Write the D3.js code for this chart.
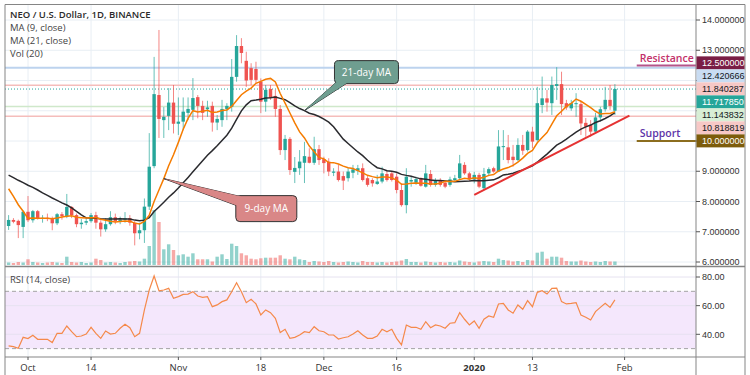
<!DOCTYPE html>
<html>
<head>
<meta charset="utf-8">
<script src="https://cdn.jsdelivr.net/npm/d3@7"></script>
<style>
  body { margin: 0; background: #fff; }
  svg { display: block; font-family: "Open Sans", "DejaVu Sans", sans-serif; }
</style>
</head>
<body>
<svg id="chart" width="750" height="375"></svg>
<script>
// ---- data (daily candles, 27 Sep 2019 .. 30 Jan 2020) ----
const firstDay = [2019, 8, 27];

// closes before the first visible candle, only used for the moving averages
const priorCloses = [9.0, 9.1, 9.3, 9.2, 9.1, 9.3, 9.4, 9.2, 9.1, 9.2, 9.3, 9.28, 9.6, 9.7, 9.6, 9.5, 7.6, 7.45, 7.5, 7.45];

const open = [
  7.19, 7.39, 7.36, 7.16,
  7.66, 7.38, 7.68, 7.44, 7.46, 7.42, 7.28, 7.58, 7.50, 7.82,
  7.55, 7.25, 7.30, 7.35, 7.55, 7.30, 7.08, 7.25, 7.48, 7.35,
  7.40, 7.45, 7.30, 6.95, 7.05, 7.83, 9.17, 11.52, 10.69, 10.83,
  11.27, 10.57, 10.64, 10.93, 11.03, 11.45, 11.16, 11.05, 11.16, 10.61,
  10.69, 11.06, 11.13, 12.12, 13.14, 12.65, 12.41, 12.38, 11.96, 11.30,
  11.72, 11.49, 11.06, 9.70, 10.07, 8.98, 9.10, 9.28, 9.48, 9.28,
  9.73, 9.40, 9.32, 8.95, 8.99, 8.84, 8.77, 8.95, 9.02, 9.10,
  8.77, 8.71, 8.58, 8.66, 8.91, 8.93, 8.82, 8.38, 7.88, 8.66,
  8.62, 8.77, 8.49, 8.91, 8.55, 8.69, 8.62, 8.55, 8.71, 8.77,
  9.21, 8.93, 8.73, 8.88, 8.44, 8.93, 9.10, 8.99, 9.80, 9.79,
  9.48, 9.37, 9.87, 9.70, 10.31, 10.03, 11.19, 11.41, 11.25, 11.82,
  11.88, 11.25, 11.08, 11.22, 11.22, 10.60, 10.53, 10.31, 10.78, 11.05,
  11.36, 11.00
];
const high = [
  7.55, 7.45, 7.40, 7.70,
  8.18, 7.72, 7.72, 7.55, 7.60, 7.50, 7.62, 7.65, 8.25, 7.85,
  7.60, 7.42, 7.48, 7.62, 7.66, 7.38, 7.45, 7.68, 7.60, 7.50,
  7.65, 7.55, 7.35, 7.30, 8.10, 10.26, 12.78, 13.67, 11.12, 11.75,
  11.85, 11.44, 11.44, 11.44, 12.08, 11.52, 11.33, 11.33, 11.30, 10.86,
  11.36, 11.25, 12.71, 13.50, 13.40, 12.95, 12.57, 12.62, 12.07, 11.85,
  11.85, 11.69, 11.19, 10.20, 10.13, 9.47, 9.70, 9.97, 9.76, 10.14,
  9.87, 9.48, 9.43, 9.10, 9.21, 8.99, 9.10, 9.21, 9.21, 9.26,
  8.84, 8.77, 8.88, 9.15, 9.04, 8.99, 8.93, 8.60, 9.10, 8.82,
  8.82, 8.80, 9.21, 9.04, 8.77, 8.77, 8.71, 8.82, 8.88, 9.54,
  9.30, 8.98, 8.98, 8.95, 9.11, 9.13, 9.15, 10.36, 10.36, 10.20,
  9.87, 10.09, 10.20, 10.36, 10.47, 11.79, 12.13, 11.69, 12.13, 12.44,
  12.29, 11.36, 11.36, 11.58, 11.32, 10.76, 10.69, 10.93, 11.13, 11.79,
  11.85, 11.88
];
const low = [
  7.06, 7.28, 6.79, 6.79,
  7.32, 7.30, 7.40, 7.30, 7.35, 7.05, 7.22, 7.40, 7.45, 7.45,
  7.15, 7.10, 7.22, 7.30, 7.10, 6.84, 7.00, 7.20, 7.25, 7.25,
  7.30, 7.20, 6.55, 6.75, 6.63, 7.72, 9.10, 10.10, 10.10, 10.36,
  10.25, 10.20, 10.36, 10.69, 10.69, 10.75, 10.69, 10.80, 10.31, 10.36,
  10.47, 10.69, 10.97, 11.96, 12.57, 11.79, 11.85, 11.91, 10.92, 10.97,
  11.36, 10.80, 9.54, 9.37, 8.88, 8.61, 8.88, 8.61, 9.26, 9.21,
  9.21, 8.93, 8.84, 8.84, 8.66, 8.38, 8.66, 8.77, 8.88, 8.66,
  8.49, 8.49, 8.55, 8.60, 8.66, 8.66, 8.27, 7.83, 7.61, 8.49,
  8.55, 8.49, 8.46, 8.49, 8.49, 8.49, 8.44, 8.49, 8.66, 8.71,
  8.88, 8.68, 8.60, 8.44, 8.38, 8.84, 8.95, 8.97, 9.37, 9.26,
  9.15, 9.33, 9.54, 9.65, 9.76, 9.98, 10.92, 10.97, 10.86, 11.36,
  10.86, 11.03, 11.00, 10.80, 10.20, 10.14, 10.14, 10.27, 10.64, 10.97,
  11.03, 10.86
];
const close = [
  7.39, 7.33, 7.22, 7.66,
  7.38, 7.68, 7.44, 7.46, 7.42, 7.28, 7.58, 7.52, 7.82, 7.55,
  7.25, 7.30, 7.35, 7.55, 7.30, 7.08, 7.25, 7.48, 7.35, 7.40,
  7.45, 7.30, 6.95, 7.05, 7.83, 9.15, 11.55, 10.73, 10.80, 11.27,
  10.57, 10.64, 10.97, 11.06, 11.42, 11.16, 10.93, 11.11, 10.61, 10.73,
  11.06, 11.16, 12.12, 13.14, 12.91, 12.00, 12.02, 12.02, 11.30, 11.69,
  11.42, 11.06, 9.70, 10.07, 9.04, 9.11, 9.32, 9.50, 9.28, 9.73,
  9.37, 9.27, 8.99, 8.99, 8.71, 8.69, 8.99, 9.06, 9.10, 8.71,
  8.55, 8.60, 8.66, 8.93, 8.71, 8.71, 8.38, 7.88, 8.82, 8.71,
  8.74, 8.52, 8.93, 8.55, 8.71, 8.55, 8.49, 8.73, 8.77, 9.26,
  8.93, 8.73, 8.88, 8.49, 8.91, 9.07, 8.99, 9.82, 9.83, 9.37,
  9.37, 9.87, 9.68, 10.31, 9.98, 11.25, 11.41, 11.27, 11.85, 11.88,
  11.22, 11.11, 11.25, 11.25, 10.58, 10.47, 10.31, 10.78, 11.05, 11.36,
  11.16, 11.72
];
// volume, millions of NEO
const volume = [
  0.25, 0.2, 0.3, 0.25,
  0.57, 0.3, 0.25, 0.2, 0.25, 0.3, 0.25, 0.2, 0.83, 0.3,
  0.25, 0.3, 0.2, 0.25, 0.63, 0.5, 0.25, 0.3, 0.25, 0.2,
  0.3, 0.35, 0.4, 0.35, 0.63, 1.9, 5.5, 4.3, 1.57, 2.07,
  1.5, 0.97, 1.07, 0.83, 1.17, 0.57, 0.57, 0.57, 0.35, 0.83,
  1.07, 0.6, 2.13, 1.9, 1.17, 0.97, 0.63, 0.57, 0.67, 0.73,
  0.73, 0.73, 0.97, 0.63, 0.57, 0.83, 0.57, 0.5, 0.3, 0.4,
  0.35, 0.3, 0.4, 0.3, 0.25, 0.3, 0.35, 0.3, 0.25, 0.4,
  0.3, 0.3, 0.25, 0.3, 0.25, 0.3, 0.35, 0.45, 0.6, 0.3,
  0.3, 0.25, 0.35, 0.3, 0.25, 0.3, 0.25, 0.3, 0.25, 0.45,
  0.35, 0.3, 0.25, 0.35, 0.4, 0.35, 0.3, 0.63, 0.5, 0.45,
  0.35, 0.4, 0.3, 0.5, 0.45, 1.23, 1.33, 0.63, 0.83, 0.83,
  0.73, 0.4, 0.35, 0.35, 0.45, 0.35, 0.3, 0.35, 0.3, 0.4,
  0.35, 0.35
];
const rsi = [
  31.9, 31.4, 30.2, 37.9,
  37.0, 39.3, 36.5, 36.5, 36.5, 34.2, 40.7, 40.7, 45.8, 41.8,
  38.3, 38.8, 40.2, 44.9, 40.7, 37.2, 42.3, 40.2, 40.7, 44.2,
  47.0, 44.6, 38.3, 40.7, 57.0, 70.9, 80.7, 70.4, 70.9, 72.1,
  65.1, 66.3, 67.9, 68.1, 69.8, 66.7, 65.8, 66.3, 59.3, 60.5,
  62.8, 64.0, 69.7, 76.0, 69.7, 62.1, 64.4, 61.2, 53.5, 57.0,
  55.1, 51.2, 41.2, 43.5, 37.2, 37.9, 39.5, 41.8, 41.2, 45.3,
  42.5, 41.8, 39.5, 39.5, 36.7, 37.6, 38.3, 40.2, 42.5, 39.5,
  37.2, 37.2, 38.8, 43.5, 41.8, 43.5, 37.2, 32.6, 46.5, 44.9,
  44.9, 43.5, 48.8, 44.6, 46.5, 45.8, 44.2, 47.7, 48.1, 55.1,
  50.5, 46.5, 49.3, 44.2, 50.5, 52.8, 51.9, 61.2, 61.6, 57.0,
  54.7, 60.5, 57.5, 63.5, 59.3, 69.3, 70.4, 68.1, 72.1, 72.3,
  62.8, 61.2, 61.6, 62.1, 53.5, 51.9, 50.0, 55.8, 58.8, 61.6,
  58.8, 64.0
];

const timeTicks = ["2019-10-01", "2019-10-14", "2019-11-01", "2019-11-18", "2019-12-01", "2019-12-16", "2020-01-01", "2020-01-13", "2020-02-01"];
const timeTickLabels = ["Oct", "14", "Nov", "18", "Dec", "16", "2020", "13", "Feb"];
const priceTicks = [6, 7, 8, 9, 10, 11, 12, 13, 14];
const rsiTicks = [40, 60, 80];

// price markers on the right axis
const markerValues = [12.5, 12.420666, 11.840287, 11.71785, 11.143832, 10.818819, 10.0];
const markerFill = ["#7a1e45", "#c9dcf2", "#f7c8c6", "#26a69a", "#d8eed5", "#f7c8c6", "#7d5c0b"];
const markerText = ["#fff", "#131722", "#131722", "#fff", "#131722", "#131722", "#fff"];

// drawings
const trendStart = ["2020-01-01", 8.22];
const trendEnd = ["2020-02-02", 10.84];
const resistanceLevel = 12.5;
const supportLevel = 10.0;
const levelStart = "2020-02-03T12:00";
const ma9NoteDate = "2019-10-29";
const ma21NoteDate = "2019-11-27";

// ---- layout ----
const svg = d3.select("#chart");
const plotL = 5, plotR = 696, axisR = 745;
const mainTop = 5, mainBot = 266, rsiTop = 267, rsiBot = 357;

const day0 = Date.UTC(...firstDay);
const dates = close.map((c, i) => new Date(day0 + i * 864e5));
const parse = s => new Date(s + (s.length > 10 ? "Z" : "T00:00Z"));
const indexOf = s => d3.bisectLeft(dates, parse(s));

const x = d3.scaleUtc()
    .domain([parse("2019-10-01"), parse("2020-02-01")])
    .range([28, 624.6]);
const y = d3.scaleLinear().domain([6, 14]).range([262, 20]);
const yVol = d3.scaleLinear().domain([0, 5.5]).range([265, 210]);
const yRsi = d3.scaleLinear().domain([40, 80]).range([334.3, 277]);

const up = "#26a69a", down = "#ef5350";
const gridColor = "#e8eef4";
const frameColor = "#858585";
const axisFontFamily = "'Liberation Sans', Arial, sans-serif";

svg.append("rect").attr("width", 750).attr("height", 375).attr("fill", "#fff");

const defs = svg.append("defs");
defs.append("clipPath").attr("id", "clipMain")
  .append("rect").attr("x", plotL).attr("y", mainTop).attr("width", plotR - plotL).attr("height", mainBot - mainTop);
defs.append("clipPath").attr("id", "clipRsi")
  .append("rect").attr("x", plotL).attr("y", rsiTop).attr("width", plotR - plotL).attr("height", rsiBot - rsiTop);

const main = svg.append("g").attr("clip-path", "url(#clipMain)");
const pane2 = svg.append("g").attr("clip-path", "url(#clipRsi)");

// grid
const tickDates = timeTicks.map(parse);
main.selectAll(".vg").data(tickDates).join("line")
  .attr("x1", d => x(d)).attr("x2", d => x(d)).attr("y1", mainTop).attr("y2", mainBot)
  .attr("stroke", gridColor);
main.selectAll(".hg").data(priceTicks).join("line")
  .attr("x1", plotL).attr("x2", plotR).attr("y1", d => y(d)).attr("y2", d => y(d))
  .attr("stroke", gridColor);

// horizontal price lines
const hLines = [
  { v: markerValues[1], c: "#bdd3ee", w: 2, dash: null },
  { v: markerValues[2], c: "#f5bdbb", w: 1.5, dash: null },
  { v: markerValues[3], c: "#26a69a", w: 1, dash: "1,2" },
  { v: markerValues[4], c: "#cfe8ca", w: 1.5, dash: null },
  { v: markerValues[5], c: "#f5bdbb", w: 1.5, dash: null }
];
main.selectAll(".hl").data(hLines).join("line")
  .attr("x1", plotL).attr("x2", plotR).attr("y1", d => y(d.v)).attr("y2", d => y(d.v))
  .attr("stroke", d => d.c).attr("stroke-width", d => d.w)
  .attr("stroke-dasharray", d => d.dash);

// volume
const idx = d3.range(close.length);
const bw = 3.4;
main.selectAll(".vol").data(idx).join("rect")
  .attr("x", i => x(dates[i]) - bw / 2)
  .attr("width", bw)
  .attr("y", i => yVol(volume[i]))
  .attr("height", i => yVol(0) - yVol(volume[i]))
  .attr("fill", i => close[i] >= open[i] ? up : down)
  .attr("opacity", 0.5);

// candles
main.selectAll(".wick").data(idx).join("line")
  .attr("x1", i => x(dates[i])).attr("x2", i => x(dates[i]))
  .attr("y1", i => y(high[i])).attr("y2", i => y(low[i]))
  .attr("stroke", i => close[i] >= open[i] ? up : down)
  .attr("stroke-opacity", 0.7);
main.selectAll(".body").data(idx).join("rect")
  .attr("x", i => x(dates[i]) - bw / 2)
  .attr("width", bw)
  .attr("y", i => y(Math.max(open[i], close[i])))
  .attr("height", i => Math.max(1, Math.abs(y(open[i]) - y(close[i]))))
  .attr("fill", i => close[i] >= open[i] ? up : down);

// moving averages
const allClose = priorCloses.concat(close);
const sma = len => close.map((c, i) => {
  const j = i + priorCloses.length;
  return d3.mean(allClose.slice(j - len + 1, j + 1));
});
const ma9 = sma(9), ma21 = sma(21);
const line = d3.line().x((d, i) => x(dates[i])).y(d => y(d));
main.append("path").attr("d", line(ma21)).attr("fill", "none")
  .attr("stroke", "#2a2a2e").attr("stroke-width", 1.5);
main.append("path").attr("d", line(ma9)).attr("fill", "none")
  .attr("stroke", "#f57c00").attr("stroke-width", 1.5);

// trend line
main.append("line")
  .attr("x1", x(parse(trendStart[0]))).attr("y1", y(trendStart[1]))
  .attr("x2", x(parse(trendEnd[0]))).attr("y2", y(trendEnd[1]))
  .attr("stroke", "#e53232").attr("stroke-width", 2);

// resistance / support
const lx = x(parse(levelStart));
main.append("line").attr("x1", lx).attr("x2", plotR).attr("y1", y(resistanceLevel)).attr("y2", y(resistanceLevel))
  .attr("stroke", "#b4548a").attr("stroke-width", 2);
main.append("line").attr("x1", lx).attr("x2", plotR).attr("y1", y(supportLevel)).attr("y2", y(supportLevel))
  .attr("stroke", "#8c6d1f").attr("stroke-width", 2);
main.append("text").attr("x", lx + 3).attr("y", y(resistanceLevel) - 3.5)
  .attr("font-size", 10.5).attr("font-weight", 600).attr("fill", "#c2306a").text("Resistance");
main.append("text").attr("x", lx + 3).attr("y", y(supportLevel) - 4)
  .attr("font-size", 10.5).attr("font-weight", 600).attr("fill", "#5e33a8").text("Support");

// callouts anchored on the averages
function callout(i, series, box, base, fill, label) {
  const tx = x(dates[i]), ty = y(series[i]);
  const bx = tx + box[0], by = ty + box[1];
  const pts = [[tx, ty], [tx + base[0][0], ty + base[0][1]], [tx + base[1][0], ty + base[1][1]]];
  const g = main.append("g");
  g.append("polygon").attr("points", pts.join(" ")).attr("fill", fill)
    .attr("stroke", "#333").attr("stroke-width", 1).attr("stroke-linejoin", "round");
  g.append("rect").attr("x", bx).attr("y", by).attr("width", box[2]).attr("height", box[3])
    .attr("rx", 4).attr("fill", fill).attr("stroke", "#333").attr("stroke-width", 1);
  g.append("polygon").attr("points", pts.join(" ")).attr("fill", fill);
  g.append("text").attr("x", bx + box[2] / 2).attr("y", by + box[3] / 2 + 3.5)
    .attr("text-anchor", "middle").attr("font-size", 10).attr("fill", "#fff").text(label);
}
callout(indexOf(ma9NoteDate), ma9, [72, 17, 61, 26], [[77, 18], [73, 27]], "#d98787", "9-day MA");
callout(indexOf(ma21NoteDate), ma21, [30, -50, 64, 23], [[32, -28.5], [44, -28.5]], "#6f9e90", "21-day MA");

// RSI pane
pane2.selectAll(".vg").data(tickDates).join("line")
  .attr("x1", d => x(d)).attr("x2", d => x(d)).attr("y1", rsiTop).attr("y2", rsiBot)
  .attr("stroke", gridColor);
pane2.append("rect").attr("x", plotL).attr("width", plotR - plotL)
  .attr("y", yRsi(70)).attr("height", yRsi(30) - yRsi(70)).attr("fill", "#f4e7fc");
pane2.selectAll(".hg").data(rsiTicks).join("line")
  .attr("x1", plotL).attr("x2", plotR).attr("y1", d => yRsi(d)).attr("y2", d => yRsi(d))
  .attr("stroke", "#e6e2f0");
pane2.selectAll(".band").data([70, 30]).join("line")
  .attr("x1", plotL).attr("x2", plotR).attr("y1", d => yRsi(d)).attr("y2", d => yRsi(d))
  .attr("stroke", "#a3a3a3").attr("stroke-dasharray", "4,3");
pane2.append("path")
  .attr("d", d3.line().x((d, i) => x(dates[i])).y(d => yRsi(d))(rsi))
  .attr("fill", "none").attr("stroke", "#f5894a").attr("stroke-width", 1.2);

// frame
const frame = svg.append("g").attr("stroke", frameColor).attr("stroke-width", 1);
frame.append("line").attr("x1", plotL).attr("x2", axisR).attr("y1", 4.5).attr("y2", 4.5);
frame.append("line").attr("x1", plotL).attr("x2", plotL).attr("y1", 4.5).attr("y2", 375);
frame.append("line").attr("x1", plotR).attr("x2", plotR).attr("y1", 4.5).attr("y2", 375);
frame.append("line").attr("x1", axisR).attr("x2", axisR).attr("y1", 4.5).attr("y2", 375);
frame.append("line").attr("x1", plotL).attr("x2", axisR).attr("y1", 266.5).attr("y2", 266.5).attr("stroke-width", 1.5);
frame.append("line").attr("x1", plotL).attr("x2", axisR).attr("y1", rsiBot).attr("y2", rsiBot);

// stacked marker labels (positions first, so plain ticks under them can be hidden)
const axisFont = 9;
const boxH = 13;
let prev = -Infinity;
const markerY = markerValues.map(v => { prev = Math.max(y(v) - 2.5, prev + boxH); return prev; });
const freeTicks = priceTicks.filter(t => markerY.every(m => Math.abs(y(t) - m) > 10));

// right price axis
const pa = svg.append("g").attr("font-family", axisFontFamily);
pa.selectAll("line").data(priceTicks).join("line")
  .attr("x1", plotR).attr("x2", plotR + 4).attr("y1", d => y(d)).attr("y2", d => y(d)).attr("stroke", "#555");
pa.selectAll("text").data(freeTicks).join("text")
  .attr("x", plotR + 6).attr("y", d => y(d) + 3.2)
  .attr("font-size", axisFont).attr("fill", "#333").text(d => d.toFixed(6));

const ra = svg.append("g").attr("font-family", axisFontFamily);
ra.selectAll("line").data(rsiTicks).join("line")
  .attr("x1", plotR).attr("x2", plotR + 4).attr("y1", d => yRsi(d)).attr("y2", d => yRsi(d)).attr("stroke", "#555");
ra.selectAll("text").data(rsiTicks).join("text")
  .attr("x", plotR + 6).attr("y", d => yRsi(d) + 3.2)
  .attr("font-size", axisFont).attr("fill", "#333").text(d => d.toFixed(2));

const mk = svg.append("g").attr("font-family", axisFontFamily);
mk.selectAll("rect").data(markerValues).join("rect")
  .attr("x", plotR + 0.5).attr("width", axisR - plotR - 1)
  .attr("y", (d, i) => markerY[i] - boxH / 2).attr("height", boxH)
  .attr("fill", (d, i) => markerFill[i]);
mk.selectAll("text").data(markerValues).join("text")
  .attr("x", plotR + 6).attr("y", (d, i) => markerY[i] + 3.2)
  .attr("font-size", axisFont).attr("fill", (d, i) => markerText[i]).text(d => d.toFixed(6));

// time axis
const ta = svg.append("g");
ta.selectAll("line").data(tickDates).join("line")
  .attr("x1", d => x(d)).attr("x2", d => x(d)).attr("y1", rsiBot).attr("y2", rsiBot + 3).attr("stroke", "#555");
ta.selectAll("text").data(tickDates).join("text")
  .attr("x", d => x(d)).attr("y", 370.5).attr("text-anchor", "middle")
  .attr("font-size", 9.5).attr("fill", "#333")
  .attr("font-weight", (d, i) => timeTickLabels[i] === "2020" ? 700 : 400)
  .text((d, i) => timeTickLabels[i]);

// legends
const lg = svg.append("g").attr("font-size", 9.5).attr("fill", "#444");
lg.append("text").attr("x", 10).attr("y", 18).attr("font-weight", 600).attr("fill", "#2a2a2a")
  .text("NEO / U.S. Dollar, 1D, BINANCE");
lg.append("text").attr("x", 10).attr("y", 30.5).text("MA (9, close)");
lg.append("text").attr("x", 10).attr("y", 43.5).text("MA (21, close)");
lg.append("text").attr("x", 10).attr("y", 56.5).text("Vol (20)");
lg.append("text").attr("x", 10).attr("y", 282.5).text("RSI (14, close)");
</script>
</body>
</html>
